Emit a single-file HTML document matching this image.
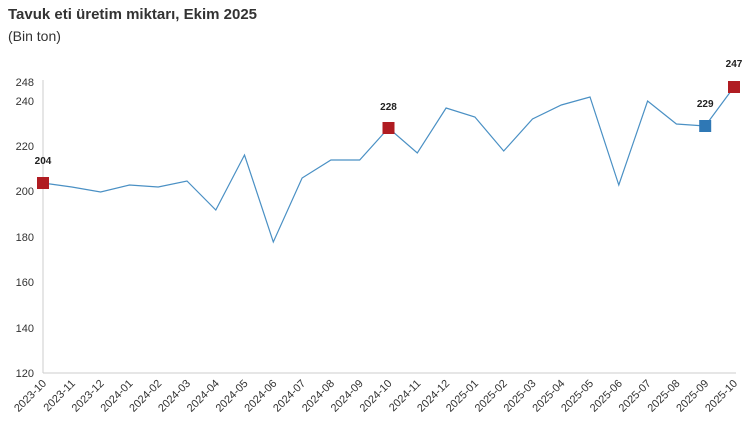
<!DOCTYPE html>
<html><head><meta charset="utf-8"><style>
body{margin:0;background:#fff;font-family:"Liberation Sans",sans-serif}
</style></head><body>
<svg width="750" height="432" xmlns="http://www.w3.org/2000/svg" font-family="Liberation Sans, sans-serif">
<text x="8" y="19" font-size="15" font-weight="bold" fill="#333">Tavuk eti üretim miktarı, Ekim 2025</text>
<text x="8" y="41" font-size="14" fill="#333">(Bin ton)</text>
<line x1="43" y1="80" x2="43" y2="373" stroke="#ccc"/>
<line x1="43" y1="373" x2="736" y2="373" stroke="#ccc"/>
<g font-size="11" fill="#333" text-anchor="end">
<text x="34" y="86">248</text><text x="34" y="105">240</text><text x="34" y="150">220</text>
<text x="34" y="195">200</text><text x="34" y="241">180</text><text x="34" y="286">160</text>
<text x="34" y="332">140</text><text x="34" y="377">120</text>
</g>
<polyline fill="none" stroke="#4a90c4" stroke-width="1.2" points="43,183 71.8,187 100.6,192 129.4,185 158.2,187 187,181 215.8,210 244.5,155 273.3,242 302.1,178 330.9,160 359.7,160 388.5,128 417.3,153 446.1,108 474.9,117 503.7,151 532.5,119 561.3,105 590,97 618.8,185 647.6,101 676.4,124 705.2,126 734,87"/>
<rect x="37" y="177" width="12" height="12" fill="#b01c22"/>
<rect x="382.5" y="122" width="12" height="12" fill="#b01c22"/>
<rect x="699.2" y="120" width="12" height="12" fill="#2f78b5"/>
<rect x="728" y="81" width="12" height="12" fill="#b01c22"/>
<g font-size="10" font-weight="bold" fill="#222" text-anchor="middle">
<text x="43" y="164">204</text><text x="388.5" y="110">228</text><text x="705.2" y="107">229</text><text x="734" y="67">247</text>
</g>
<g font-size="11" fill="#333" text-anchor="end">
<text transform="translate(47,384) rotate(-45)">2023-10</text>
<text transform="translate(75.8,384) rotate(-45)">2023-11</text>
<text transform="translate(104.6,384) rotate(-45)">2023-12</text>
<text transform="translate(133.4,384) rotate(-45)">2024-01</text>
<text transform="translate(162.2,384) rotate(-45)">2024-02</text>
<text transform="translate(191,384) rotate(-45)">2024-03</text>
<text transform="translate(219.8,384) rotate(-45)">2024-04</text>
<text transform="translate(248.5,384) rotate(-45)">2024-05</text>
<text transform="translate(277.3,384) rotate(-45)">2024-06</text>
<text transform="translate(306.1,384) rotate(-45)">2024-07</text>
<text transform="translate(334.9,384) rotate(-45)">2024-08</text>
<text transform="translate(363.7,384) rotate(-45)">2024-09</text>
<text transform="translate(392.5,384) rotate(-45)">2024-10</text>
<text transform="translate(421.3,384) rotate(-45)">2024-11</text>
<text transform="translate(450.1,384) rotate(-45)">2024-12</text>
<text transform="translate(478.9,384) rotate(-45)">2025-01</text>
<text transform="translate(507.7,384) rotate(-45)">2025-02</text>
<text transform="translate(536.5,384) rotate(-45)">2025-03</text>
<text transform="translate(565.3,384) rotate(-45)">2025-04</text>
<text transform="translate(594,384) rotate(-45)">2025-05</text>
<text transform="translate(622.8,384) rotate(-45)">2025-06</text>
<text transform="translate(651.6,384) rotate(-45)">2025-07</text>
<text transform="translate(680.4,384) rotate(-45)">2025-08</text>
<text transform="translate(709.2,384) rotate(-45)">2025-09</text>
<text transform="translate(738,384) rotate(-45)">2025-10</text>
</g>
</svg>
</body></html>
